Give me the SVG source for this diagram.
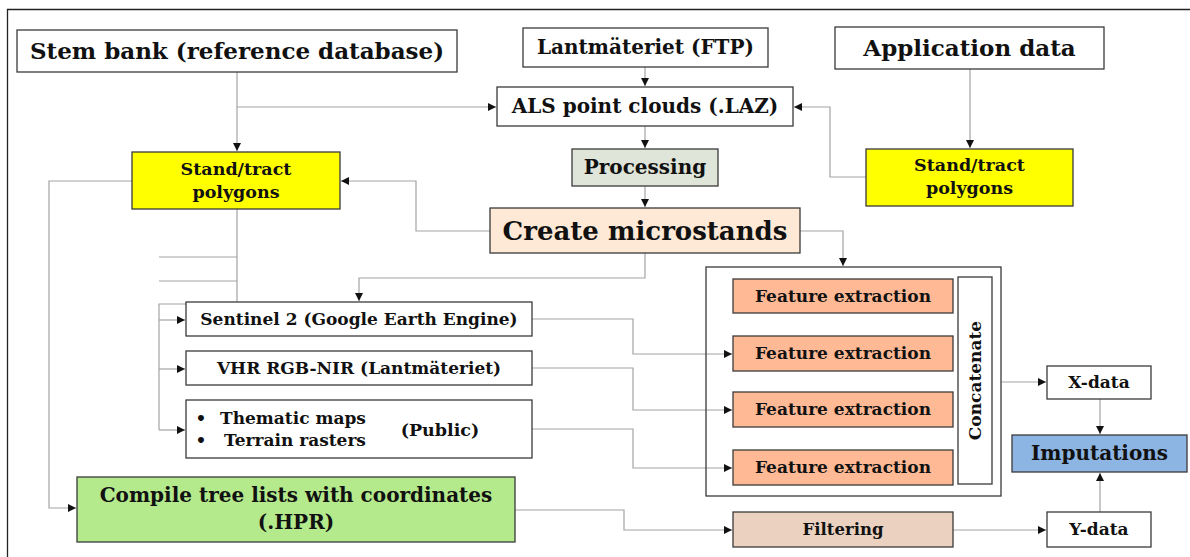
<svg xmlns="http://www.w3.org/2000/svg" width="1190" height="557" viewBox="0 0 1190 557">
<defs>
<marker id="ah" markerWidth="9" markerHeight="9" refX="8" refY="4.5" orient="auto" markerUnits="userSpaceOnUse">
<path d="M0,0.5 L8,4.5 L0,8.5 Z" fill="#111"/>
</marker>
<style>
.box{stroke:#3a3a3a;stroke-width:1.3;fill:#fff}
.t{font-family:"DejaVu Serif","Liberation Serif",serif;font-weight:bold;fill:#111;text-anchor:middle}
.c{fill:none;stroke:#a3a3a3;stroke-width:1.2}
.a{marker-end:url(#ah)}
</style>
</defs>
<rect width="1190" height="557" fill="#fff"/>
<path d="M7.5,557 V9.5 H1190" fill="none" stroke="#222" stroke-width="1.3"/>

<g id="connectors">
<path class="c a" d="M237,72 V151"/>
<path class="c a" d="M237,107 H496"/>
<path class="c a" d="M645,67 V86"/>
<path class="c a" d="M645,126 V148"/>
<path class="c a" d="M645,186 V207"/>
<path class="c a" d="M970,69 V148"/>
<path class="c a" d="M866,177 H830 V107 H794"/>
<path class="c a" d="M490,231 H416 V181 H341"/>
<path class="c a" d="M800,231 H843 V266"/>
<path class="c a" d="M645,253 V278 H359 V301"/>
<path class="c" d="M237,209 V304 H159 V430"/>
<path class="c" d="M237,257 H159"/>
<path class="c" d="M237,281 H159"/>
<path class="c a" d="M159,320 H185"/>
<path class="c a" d="M159,369 H185"/>
<path class="c a" d="M159,430 H185"/>
<path class="c a" d="M132,181 H49 V508 H76"/>
<path class="c a" d="M532,319 H633 V354 H732"/>
<path class="c a" d="M532,368 H633 V410 H732"/>
<path class="c a" d="M532,429 H633 V468 H732"/>
<path class="c a" d="M515,510 H624 V530 H732"/>
<path class="c a" d="M1001,382 H1046"/>
<path class="c a" d="M1100,399 V434"/>
<path class="c a" d="M1100,512 V473"/>
<path class="c a" d="M953,530 H1046"/>
</g>

<g id="stem-bank"><rect class="box" x="17" y="30" width="440" height="42"/><text class="t" x="237" y="59" font-size="23">Stem bank (reference database)</text></g>
<g id="lantmateriet-ftp"><rect class="box" x="523" y="28" width="245" height="39"/><text class="t" x="645.5" y="54" font-size="20">Lantmäteriet (FTP)</text></g>
<g id="als"><rect class="box" x="497" y="87" width="296" height="39"/><text class="t" x="645" y="113" font-size="20">ALS point clouds (.LAZ)</text></g>
<g id="processing"><rect class="box" x="572" y="149" width="146" height="37" style="fill:#dfe5d8"/><text class="t" x="645" y="174" font-size="20">Processing</text></g>
<g id="create-microstands"><rect class="box" x="490" y="208" width="310" height="45" style="fill:#fde9d5"/><text class="t" x="645" y="240" font-size="26">Create microstands</text></g>
<g id="application-data"><rect class="box" x="835" y="27" width="269" height="42"/><text class="t" x="969.5" y="56" font-size="23">Application data</text></g>
<g id="stand-right"><rect class="box" x="866" y="149" width="207" height="57" style="fill:#ffff00"/><text class="t" x="969.5" y="171" font-size="17.5">Stand/tract</text><text class="t" x="969.5" y="194" font-size="17.5">polygons</text></g>
<g id="stand-left"><rect class="box" x="132" y="152" width="208" height="57" style="fill:#ffff00"/><text class="t" x="236" y="175" font-size="17.5">Stand/tract</text><text class="t" x="236" y="198" font-size="17.5">polygons</text></g>
<g id="sentinel"><rect class="box" x="186" y="302" width="346" height="34"/><text class="t" x="359" y="325" font-size="17">Sentinel 2 (Google Earth Engine)</text></g>
<g id="vhr"><rect class="box" x="186" y="351" width="346" height="34"/><text class="t" x="359" y="374" font-size="17">VHR RGB-NIR (Lantmäteriet)</text></g>
<g id="thematic"><rect class="box" x="186" y="400" width="346" height="58"/>
<text class="t" x="201" y="424" font-size="17">•</text><text class="t" x="220" y="424" font-size="17" style="text-anchor:start">Thematic maps</text>
<text class="t" x="201" y="446" font-size="17">•</text><text class="t" x="224" y="446" font-size="17" style="text-anchor:start">Terrain rasters</text>
<text class="t" x="440" y="436" font-size="17.5">(Public)</text></g>
<g id="compile"><rect class="box" x="77" y="477" width="438" height="65" style="fill:#b4ea8c"/><text class="t" x="296" y="502" font-size="20">Compile tree lists with coordinates</text><text class="t" x="296" y="529" font-size="20">(.HPR)</text></g>
<g id="feature-group"><rect class="box" x="706" y="267" width="295" height="229" style="fill:none"/></g>
<g id="fe1"><rect class="box" x="733" y="279" width="220" height="34" style="fill:#ffb995"/><text class="t" x="843" y="302" font-size="17">Feature extraction</text></g>
<g id="fe2"><rect class="box" x="733" y="336" width="220" height="35" style="fill:#ffb995"/><text class="t" x="843" y="359" font-size="17">Feature extraction</text></g>
<g id="fe3"><rect class="box" x="733" y="392" width="220" height="35" style="fill:#ffb995"/><text class="t" x="843" y="415" font-size="17">Feature extraction</text></g>
<g id="fe4"><rect class="box" x="733" y="450" width="220" height="35" style="fill:#ffb995"/><text class="t" x="843" y="473" font-size="17">Feature extraction</text></g>
<g id="concatenate"><rect class="box" x="958" y="277" width="34" height="207"/><text class="t" x="0" y="0" font-size="17" transform="translate(981,380.5) rotate(-90)">Concatenate</text></g>
<g id="filtering"><rect class="box" x="733" y="512" width="220" height="35" style="fill:#ebd1c0"/><text class="t" x="843" y="535" font-size="16.5">Filtering</text></g>
<g id="x-data"><rect class="box" x="1047" y="366" width="104" height="33"/><text class="t" x="1099" y="388" font-size="17">X-data</text></g>
<g id="imputations"><rect class="box" x="1012" y="435" width="175" height="37" style="fill:#8db5e3"/><text class="t" x="1099.5" y="460" font-size="20">Imputations</text></g>
<g id="y-data"><rect class="box" x="1047" y="512" width="104" height="35"/><text class="t" x="1099" y="535" font-size="17">Y-data</text></g>
</svg>
